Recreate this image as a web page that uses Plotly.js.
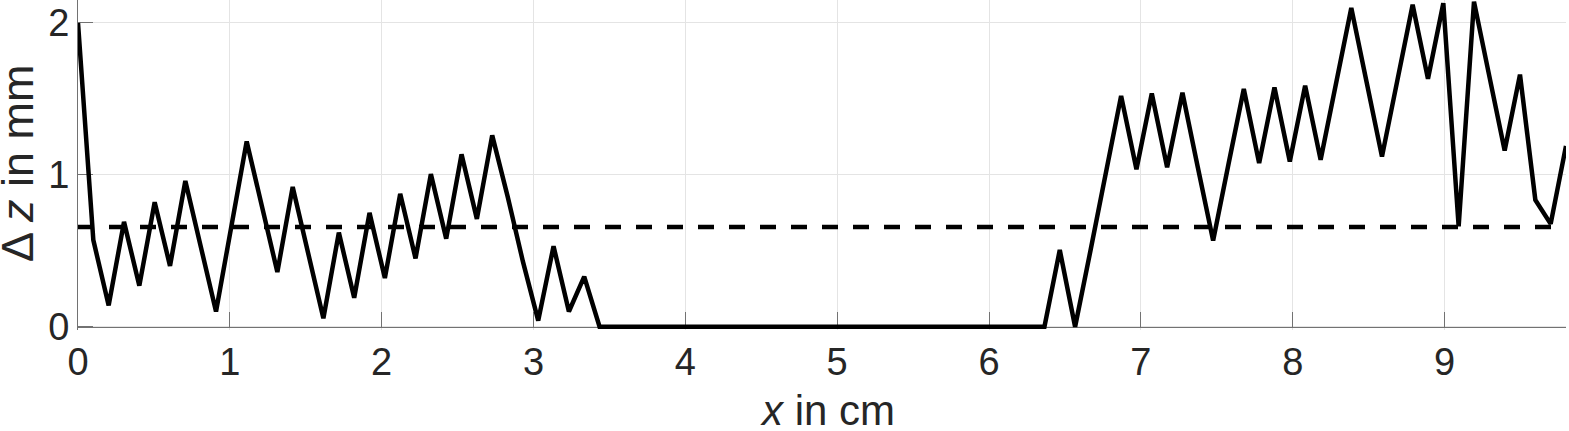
<!DOCTYPE html>
<html>
<head>
<meta charset="utf-8">
<script src="https://cdn.plot.ly/plotly-3.0.1.min.js"></script>
<style>
  html, body { margin: 0; padding: 0; background: #fff; }
  #chart { width: 1569px; height: 431px; }
</style>
</head>
<body>
<div id="chart"></div>
<script>
// sample positions along the profile (cm)
const xPos = [
  0, 0.101, 0.202, 0.303, 0.404, 0.505, 0.606, 0.707, 0.808, 0.909,
  1.010, 1.111, 1.212, 1.313, 1.414, 1.515, 1.616, 1.718, 1.819, 1.920,
  2.021, 2.122, 2.223, 2.324, 2.425, 2.526, 2.627, 2.728, 2.829, 2.930,
  3.031, 3.132, 3.233, 3.334, 3.435, 3.536, 3.637, 3.738, 3.839, 3.940,
  4.041, 4.142, 4.243, 4.344, 4.445, 4.546, 4.647, 4.748, 4.849, 4.951,
  5.052, 5.153, 5.254, 5.355, 5.456, 5.557, 5.658, 5.759, 5.860, 5.961,
  6.062, 6.163, 6.264, 6.365, 6.466, 6.567, 6.668, 6.769, 6.870, 6.971,
  7.072, 7.173, 7.274, 7.375, 7.476, 7.577, 7.678, 7.779, 7.880, 7.981,
  8.082, 8.184, 8.285, 8.386, 8.487, 8.588, 8.689, 8.790, 8.891, 8.992,
  9.093, 9.194, 9.295, 9.396, 9.497, 9.598, 9.699, 9.800
];

// height difference (mm)
const dz = [
  2.0, 0.57, 0.14, 0.69, 0.27, 0.82, 0.40, 0.96, 0.53, 0.10,
  0.66, 1.22, 0.79, 0.36, 0.92, 0.49, 0.055, 0.62, 0.19, 0.75,
  0.32, 0.875, 0.45, 1.005, 0.58, 1.135, 0.71, 1.26, 0.86, 0.43,
  0.04, 0.53, 0.10, 0.33, 0, 0, 0, 0, 0, 0,
  0, 0, 0, 0, 0, 0, 0, 0, 0, 0,
  0, 0, 0, 0, 0, 0, 0, 0, 0, 0,
  0, 0, 0, 0, 0.505, 0.0, 0.50, 1.01, 1.52, 1.037,
  1.535, 1.05, 1.54, 1.05, 0.567, 1.07, 1.565, 1.077, 1.575, 1.088,
  1.587, 1.099, 1.60, 2.099, 1.61, 1.12, 1.62, 2.12, 1.633, 2.13,
  0.66, 2.14, 1.65, 1.16, 1.66, 0.835, 0.677, 1.19
];

// mean level (dashed)
const meanX = [0, 9.8];
const meanY = [0.657, 0.657];

const xTicks = [0, 1, 2, 3, 4, 5, 6, 7, 8, 9];
const yTicks = [0, 1, 2];

const txtColor = '#262626';
const axColor = '#727272';
const gridColor = '#e4e4e4';
const fontFam = '"Liberation Sans", Arial, Helvetica, sans-serif';

const traceProfile = {
  x: xPos,
  y: dz,
  mode: 'lines',
  line: { color: '#000', width: 4.5 },
  cliponaxis: false,
  hoverinfo: 'skip'
};

const traceMean = {
  x: meanX,
  y: meanY,
  mode: 'lines',
  line: { color: '#000', width: 4.5, dash: '16px,15px' },
  hoverinfo: 'skip'
};

const axisBase = {
  showline: true,
  linecolor: axColor,
  linewidth: 1,
  ticks: 'inside',
  ticklen: 15,
  tickwidth: 1,
  tickcolor: axColor,
  showgrid: true,
  gridcolor: gridColor,
  gridwidth: 1,
  zeroline: false,
  layer: 'below traces',
  tickfont: { family: fontFam, size: 38, color: txtColor }
};

// plot area runs a few px below zero so the thick zero line is not cut;
// the x axis itself is placed at y = 0
const layout = {
  width: 1569,
  height: 431,
  margin: { l: 78, r: 3, t: 0, b: 101 },
  paper_bgcolor: '#fff',
  plot_bgcolor: '#fff',
  showlegend: false,
  font: { family: fontFam, color: txtColor },
  xaxis: Object.assign({}, axisBase, {
    range: [0, 9.8],
    anchor: 'free',
    position: 0.01,
    tickmode: 'array',
    tickvals: xTicks,
    ticktext: xTicks.map(String),
    ticklabelstandoff: 2
  }),
  yaxis: Object.assign({}, axisBase, {
    range: [-0.0217, 2.151],
    tickmode: 'array',
    tickvals: yTicks,
    ticktext: yTicks.map(String)
  }),
  annotations: [
    {
      text: '<i>x</i> in cm',
      xref: 'paper', yref: 'paper',
      x: 0.504, y: -0.245,
      xanchor: 'center', yanchor: 'middle',
      showarrow: false,
      font: { family: fontFam, size: 42, color: txtColor }
    },
    {
      text: 'Δ <i>z</i> in mm',
      xref: 'paper', yref: 'paper',
      x: -0.041, y: 0.506,
      xanchor: 'center', yanchor: 'middle',
      textangle: -90,
      showarrow: false,
      font: { family: fontFam, size: 45, color: txtColor }
    }
  ]
};

Plotly.newPlot('chart', [traceProfile, traceMean], layout, { displayModeBar: false, staticPlot: true });
</script>
</body>
</html>
